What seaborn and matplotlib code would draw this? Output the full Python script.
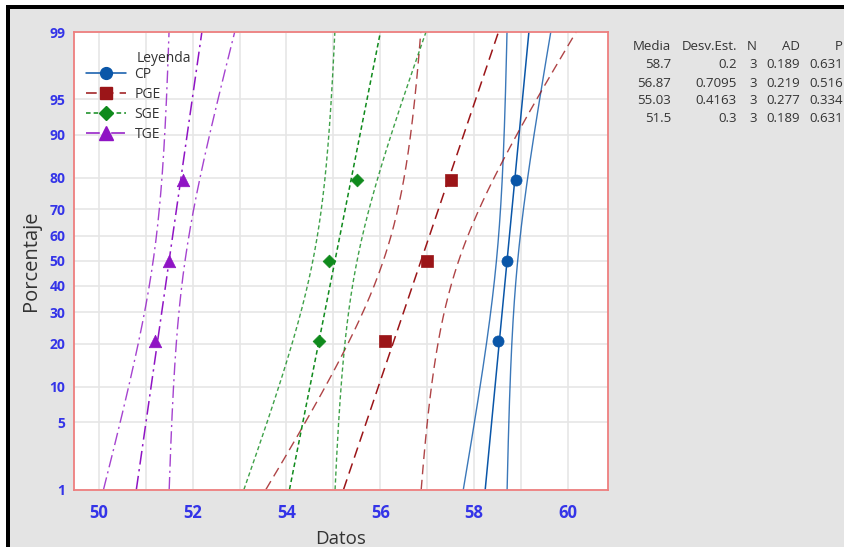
import numpy as np
import pandas as pd
import matplotlib
matplotlib.use("Agg")
import matplotlib.pyplot as plt
from matplotlib.lines import Line2D
from matplotlib.patches import Rectangle
import seaborn as sns
from statistics import NormalDist

# ---------------- data ----------------
groups = ["CP", "PGE", "SGE", "TGE"]
cp_values = [58.5, 58.7, 58.9]
pge_values = [56.1, 57.0, 57.5]
sge_values = [54.7, 54.9, 55.5]
tge_values = [51.2, 51.5, 51.8]
group_values = [cp_values, pge_values, sge_values, tge_values]

table_header = ["Media", "Desv.Est.", "N", "AD", "P"]
table_media = ["58.7", "56.87", "55.03", "51.5"]
table_sd = ["0.2", "0.7095", "0.4163", "0.3"]
table_n = ["3", "3", "3", "3"]
table_ad = ["0.189", "0.219", "0.277", "0.189"]
table_p = ["0.631", "0.516", "0.334", "0.631"]

y_tick_pcts = [1, 5, 10, 20, 30, 40, 50, 60, 70, 80, 90, 95, 99]
x_ticks = [50, 52, 54, 56, 58, 60]

# ---------------- styles ----------------
colors = {"CP": "#0a56a8", "PGE": "#9b1518", "SGE": "#0f8a1c", "TGE": "#8f14c4"}
markers = {"CP": "o", "PGE": "s", "SGE": "D", "TGE": "^"}
msizes = {"CP": 8, "PGE": 8, "SGE": 6.5, "TGE": 9}
dashes = {"CP": (None, None), "PGE": (7, 4), "SGE": (3, 2), "TGE": (9, 3, 1.5, 3)}

sns.set_theme(style="white")
plt.rcParams["font.family"] = ["Open Sans", "DejaVu Sans"]

W, H = 844, 547
fig = plt.figure(figsize=(W / 100, H / 100), dpi=100)
fig.patch.set_facecolor("white")
# screenshot frame: black line on top/left, gray panel
fig.patches.append(Rectangle((6 / W, 0), 1, 1 - 5 / H, transform=fig.transFigure,
                             facecolor="black", edgecolor="none", zorder=-3))
fig.patches.append(Rectangle((10 / W, 0), 1, 1 - 9 / H, transform=fig.transFigure,
                             facecolor="#e4e4e4", edgecolor="none", zorder=-2))

L, R, T, B = 74.3, 607.5, 32, 489.5
ax = fig.add_axes([L / W, 1 - B / H, (R - L) / W, (B - T) / H])
ax.set_facecolor("white")

nd = NormalDist()
zlo, zhi = nd.inv_cdf(0.01), nd.inv_cdf(0.99)
zgrid = np.linspace(zlo, zhi, 200)
zc = nd.inv_cdf(0.975)

for g, vals in zip(groups, group_values):
    v = np.sort(np.array(vals, dtype=float))
    n = len(v)
    mu, s = v.mean(), v.std(ddof=1)
    ranks = (np.arange(1, n + 1) - 0.3) / (n + 0.4)
    zpts = np.array([nd.inv_cdf(p) for p in ranks])
    fit = mu + s * zgrid
    half = zc * s * np.sqrt(1 / n + zgrid ** 2 / (2 * n - 1))
    col = colors[g]
    for xs, lw, a in [(fit, 1.1, 1.0), (fit - half, 1.0, 0.8), (fit + half, 1.0, 0.8)]:
        df = pd.DataFrame({"x": xs, "z": zgrid})
        sns.lineplot(data=df, x="x", y="z", sort=False, estimator=None, ax=ax,
                     color=col, lw=lw, alpha=a, dashes=False, legend=False)
        ln = ax.lines[-1]
        if dashes[g][0] is not None:
            ln.set_dashes(dashes[g])
    dp = pd.DataFrame({"x": v, "z": zpts})
    sns.scatterplot(data=dp, x="x", y="z", ax=ax, color=col, marker=markers[g],
                    s=msizes[g] ** 2, edgecolor=col, linewidth=0.5, zorder=5, legend=False)

ax.set_xlim(49.48, 60.84)
ax.set_ylim(zlo, zhi)
ax.set_xticks(x_ticks)
ax.set_xticks(np.arange(50, 61, 1), minor=True)
ax.set_yticks([nd.inv_cdf(p / 100) for p in y_tick_pcts])
ax.set_yticklabels([str(p) for p in y_tick_pcts])
ax.grid(True, which="both", axis="x", color="#e6e6e6", lw=1.2)
ax.grid(True, which="major", axis="y", color="#e6e6e6", lw=1.2)
ax.set_axisbelow(True)

spine_col = "#ee7f7f"
for sp in ax.spines.values():
    sp.set_color(spine_col)
    sp.set_linewidth(1.3)
ax.tick_params(axis="both", which="major", direction="out", length=4.5, width=1.2,
               color=spine_col, labelcolor="#3434e8")
ax.tick_params(axis="y", labelsize=10, pad=2)
ax.tick_params(axis="x", labelsize=12, pad=6)
ax.tick_params(axis="x", which="minor", length=0)
for lab in ax.get_xticklabels() + ax.get_yticklabels():
    lab.set_fontweight("bold")

ax.set_xlabel("Datos", fontsize=13.5, color="#333333", labelpad=6, fontweight="medium")
ax.set_ylabel("Porcentaje", fontsize=14.5, color="#333333", labelpad=6, fontweight="medium")

# legend
handles = []
for g in groups:
    h = Line2D([0], [0], color=colors[g], lw=1.1, marker=markers[g],
               markersize=msizes[g] + 0.5, markerfacecolor=colors[g], markeredgecolor=colors[g])
    if dashes[g][0] is not None:
        h.set_dashes(dashes[g])
    handles.append(h)
leg = ax.legend(handles, groups, loc="upper left", bbox_to_anchor=((86 - L) / (R - L), (B - 67) / (B - T)),
                frameon=False, fontsize=10, handlelength=2.9, handletextpad=0.6,
                labelspacing=0.36, borderaxespad=0, borderpad=0)
for t in leg.get_texts():
    t.set_color("#333333")
ax.text((137 - L) / (R - L), (B - 58) / (B - T), "Leyenda", transform=ax.transAxes,
        fontsize=10, color="#333333", ha="left", va="center")

# stats table
col_right = [671, 737, 757, 800, 843]
row_y = [47, 65, 83, 101, 119]
cols = [table_media, table_sd, table_n, table_ad, table_p]
for ci, (xr, head) in enumerate(zip(col_right, table_header)):
    fig.text(xr / W, 1 - row_y[0] / H, head, ha="right", va="center", fontsize=9.5, color="#333333")
    for ri, val in enumerate(cols[ci]):
        fig.text(xr / W, 1 - row_y[ri + 1] / H, val, ha="right", va="center", fontsize=9.5, color="#333333")

fig.savefig("out.png", dpi=100)
